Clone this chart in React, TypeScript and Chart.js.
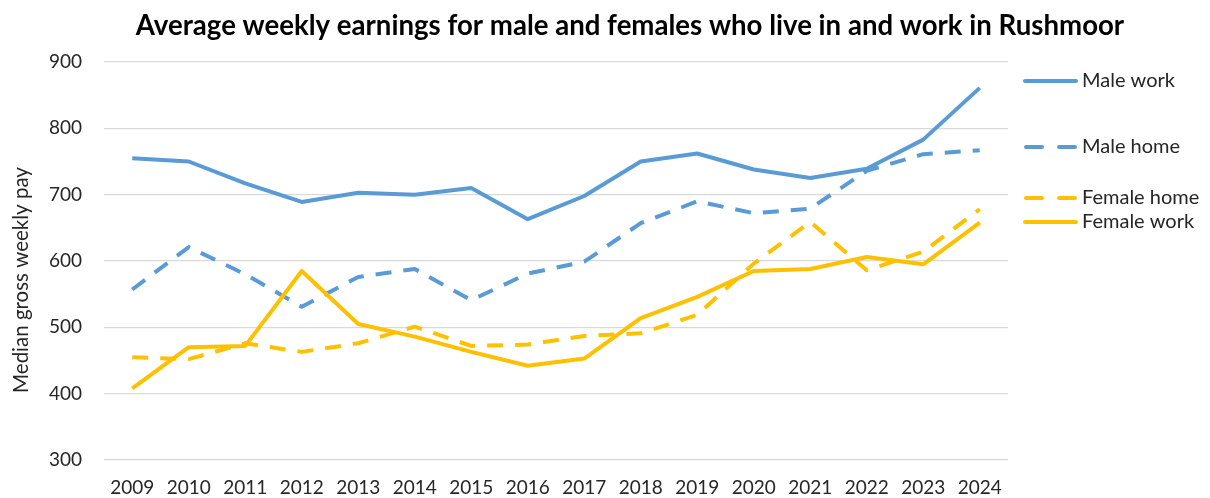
import React, { useEffect, useRef } from "react";
import { Chart, registerables } from "chart.js";

Chart.register(...registerables);

const years = ["2009","2010","2011","2012","2013","2014","2015","2016","2017","2018","2019","2020","2021","2022","2023","2024"];
const maleWork = [755, 750, 717, 689, 703, 700, 710, 663, 698, 750, 762, 738, 725, 739, 783, 861];
const maleHome = [557, 621, 580, 531, 576, 588, 541, 581, 599, 657, 690, 672, 679, 736, 761, 767];
const femaleHome = [455, 452, 476, 463, 476, 501, 472, 474, 487, 491, 519, 596, 659, 586, 614, 678];
const femaleWork = [408, 470, 472, 585, 505, 486, 463, 442, 453, 514, 546, 585, 588, 606, 595, 658];
const yTicks = [300, 400, 500, 600, 700, 800, 900];

const TITLE = "Average weekly earnings for male and females who live in and work in Rushmoor";
const Y_TITLE = "Median gross weekly pay";
const BLUE = "#5B9BD5";
const GOLD = "#FFC000";
const FONT = "Lato";
const TEXT = "#262626";

// legend entries, in the order they appear on the right of the plot
const legendItems = [
  { label: "Male work", color: BLUE, dashed: false, y: 81 },
  { label: "Male home", color: BLUE, dashed: true, y: 147 },
  { label: "Female home", color: GOLD, dashed: true, y: 198 },
  { label: "Female work", color: GOLD, dashed: false, y: 222 },
];

const decorPlugin = {
  id: "decor",
  afterDraw(chart: any) {
    const ctx = chart.ctx;
    ctx.save();
    // title
    ctx.fillStyle = "#000";
    ctx.font = `bold 27.6px ${FONT}`;
    ctx.textAlign = "center";
    ctx.textBaseline = "middle";
    ctx.fillText(TITLE, 630, 26);
    // y-axis title
    ctx.save();
    ctx.translate(21, 280);
    ctx.rotate(-Math.PI / 2);
    ctx.font = `20.5px ${FONT}`;
    ctx.fillStyle = TEXT;
    ctx.fillText(Y_TITLE, 0, 0);
    ctx.restore();
    // legend
    ctx.font = `20px ${FONT}`;
    ctx.textAlign = "left";
    legendItems.forEach((it) => {
      ctx.strokeStyle = it.color;
      ctx.lineWidth = 4;
      ctx.lineCap = "round";
      if (it.dashed) {
        ctx.beginPath();
        ctx.moveTo(1026, it.y); ctx.lineTo(1042, it.y);
        ctx.moveTo(1059, it.y); ctx.lineTo(1075, it.y);
        ctx.stroke();
      } else {
        ctx.beginPath();
        ctx.moveTo(1025, it.y); ctx.lineTo(1076, it.y);
        ctx.stroke();
      }
      ctx.fillStyle = TEXT;
      ctx.fillText(it.label, 1082, it.y);
    });
    ctx.restore();
  },
};

export default function App() {
  const ref = useRef<HTMLCanvasElement>(null);
  useEffect(() => {
    document.body.style.margin = "0";
    const ds = (label: string, data: number[], color: string, dashed: boolean) => ({
      label,
      data,
      borderColor: color,
      backgroundColor: color,
      borderWidth: 4,
      borderDash: dashed ? [16, 12] : [],
      borderCapStyle: "butt",
      borderJoinStyle: "round",
      pointRadius: 0,
      tension: 0,
      fill: false,
    });
    const chart = new Chart(ref.current!, {
      type: "line",
      data: {
        labels: years,
        datasets: [
          ds("Female home", femaleHome, GOLD, true),
          ds("Female work", femaleWork, GOLD, false),
          ds("Male home", maleHome, BLUE, true),
          ds("Male work", maleWork, BLUE, false),
        ],
      },
      options: {
        animation: false,
        responsive: false,
        maintainAspectRatio: false,
        layout: { padding: { top: 62, right: 202, bottom: 0, left: 0 } },
        plugins: { legend: { display: false }, title: { display: false }, tooltip: { enabled: false } },
        scales: {
          x: {
            offset: true,
            grid: { display: false, drawTicks: false },
            border: { display: false },
            ticks: { color: TEXT, font: { family: FONT, size: 19 }, padding: 16, maxRotation: 0, autoSkip: false },
            afterFit: (s: any) => { s.height = 38; },
          },
          y: {
            min: 300,
            max: 900,
            afterBuildTicks: (s: any) => { s.ticks = yTicks.map((v) => ({ value: v })); },
            grid: { color: "#d9d9d9", lineWidth: 1.3, drawTicks: false },
            border: { display: false },
            ticks: { color: TEXT, font: { family: FONT, size: 19 }, padding: 22 },
            afterFit: (s: any) => { s.width = 104; },
          },
        },
      },
      plugins: [decorPlugin],
    } as any);
    return () => chart.destroy();
  }, []);
  return (
    <div style={{ width: 1210, height: 498, background: "#fff" }}>
      <canvas ref={ref} width={1210} height={498} style={{ display: "block" }} />
    </div>
  );
}
